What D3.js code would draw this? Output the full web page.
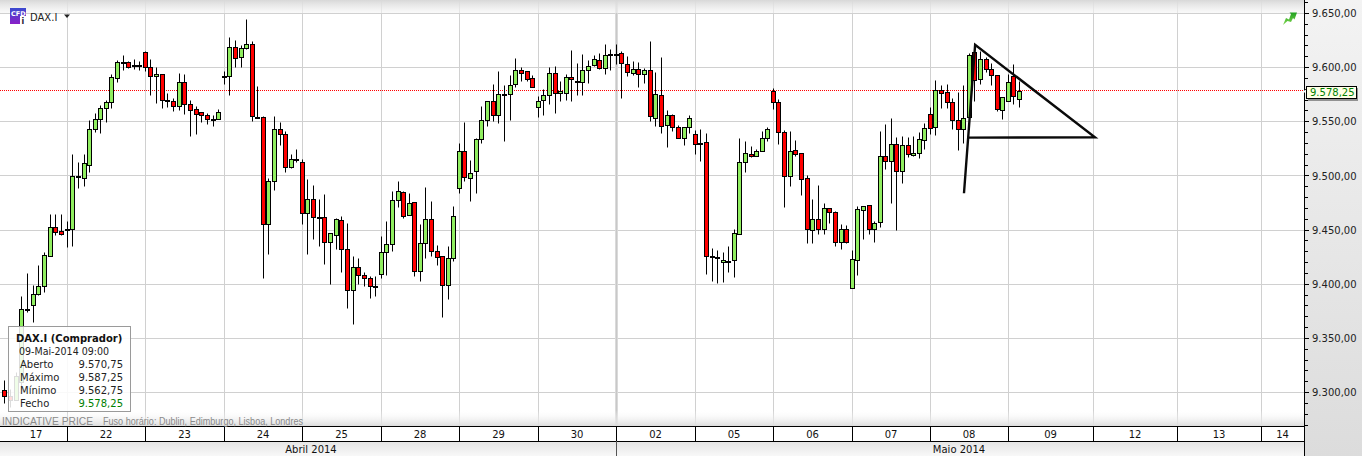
<!DOCTYPE html>
<html><head><meta charset="utf-8">
<script src="https://cdn.jsdelivr.net/npm/d3@7"></script>
<style>html,body{margin:0;padding:0;background:#fff;overflow:hidden}svg{display:block}text{font-family:"DejaVu Sans",sans-serif;}</style>
</head><body><svg id="c" width="1362" height="456"></svg>
<script>
const opens=[9301.5,9296,9293,9309,9377,9380.5,9390.5,9397.5,9426,9452,
9449,9451,9451,9499,9498,9510,9542.5,9552.5,9562.5,9567.5,
9590,9604.5,9604.5,9601.5,9601.5,9614,9600.5,9591.5,9593.5,9569.5,
9568.5,9564,9586,9565.5,9561,9558.5,9555.5,9552.5,9552,9592,
9591.5,9618.5,9609,9617.5,9621,9554,9553.5,9455.5,9495,9542.5,
9538,9507.5,9515,9512,9465,9478,9461.5,9461.5,9438.5,9445,
9459,9432,9394,9415.5,9408,9405,9397.5,9409,9429.5,9437,
9477.5,9485,9463.5,9475.5,9412,9437.5,9460,9430.5,9425.5,9399,
9424,9488.5,9522.5,9497.5,9504,9533.5,9551,9568.5,9555.5,9575,
9575,9584.5,9597,9596.5,9590,9563,9569.5,9574,9594.5,9576,
9576,9591,9587.5,9586,9597,9602,9606.5,9599,9612,9612.5,
9613,9603,9594.5,9598,9593.5,9597,9553,9574,9546.5,9555.5,
9544.5,9534.5,9544.5,9538,9529.5,9530.5,9425.5,9424.5,9420,9421,
9421.5,9445.5,9512,9519.5,9517.5,9522.5,9534.5,9577.5,9567.5,9540,
9499,9523,9520.5,9497.5,9449.5,9459.5,9450.5,9469.5,9466,9438.5,
9450.5,9396,9421.5,9468,9472.5,9450.5,9457,9517.5,9513,9529,
9504,9528,9518.5,9520.5,9532.5,9556.5,9544.5,9578.5,9577,9567.5,
9551,9542.5,9553.5,9614,9589,9607.5,9598,9592.5,9560,9568.5,9591.5,9570.75];
const closes=[9296,9292.5,9315,9377,9377,9390.5,9397.5,9427,9452,9448,
9446,9451,9499,9499,9511,9542.5,9552.5,9562,9567.5,9590.5,
9604.5,9604.5,9600.5,9601.5,9601.5,9600.5,9591.5,9593.5,9569.5,9569.5,
9564,9586,9565.5,9560,9557,9555.5,9552,9552.5,9558.5,9592,
9618.5,9608,9617.5,9621,9554.5,9554,9455.5,9495,9542.5,9538,
9507.5,9515.5,9515,9465.5,9478,9462,9461.5,9438.5,9447,9460,
9432,9394,9415.5,9408,9405,9397.5,9397.5,9429.5,9437,9477.5,
9485.5,9462.5,9474.5,9412,9437.5,9460,9430.5,9425,9399,9424,
9462.5,9522.5,9498.5,9502,9533.5,9551,9568.5,9555.5,9575,9575,
9583.5,9597,9594.5,9589,9581.5,9568.5,9574,9594.5,9576,9578,
9591,9589,9587.5,9597,9601,9607.5,9599,9611,9612,9612.5,
9603.5,9595.5,9598,9593.5,9597,9555,9575,9545.5,9555.5,9544.5,
9534.5,9544.5,9553,9529,9529.5,9425.5,9425.5,9424.5,9421.5,9421,
9446.5,9512,9520.5,9517.5,9522.5,9534.5,9542.5,9567.5,9540,9499,
9522.5,9519.5,9496.5,9450.5,9459.5,9450.5,9469.5,9466,9438.5,9451,
9439,9422.5,9469,9471.5,9450.5,9456,9517.5,9513,9529,9504,
9528,9519.5,9520.5,9533.5,9543.5,9543.5,9578.5,9576,9567.5,9551,
9542.5,9553,9611,9588,9607.5,9598,9592.5,9561,9572,9586,9573,9578.25];
const highs=[9311,9303,9319,9388.5,9410,9399,9417,9429,9464,9464,
9464,9458,9520,9512,9519.5,9551,9558,9565,9570,9593.5,
9606.5,9611,9605.5,9607.5,9605.5,9615,9607.5,9600.5,9593.5,9576,
9571,9594.5,9593.5,9569.5,9564,9558.5,9557.5,9555.5,9561,9596,
9628,9625,9620,9644.5,9624,9582.5,9554.5,9497.5,9554.5,9549,
9541,9519.5,9524,9515.5,9497,9491.5,9478,9482.5,9447,9461,
9463,9456.5,9425.5,9424,9411,9407,9407.5,9444.5,9457.5,9485.5,
9495,9485.5,9484,9475.5,9455.5,9489.5,9476.5,9436,9425.5,9435,
9472,9530,9549.5,9514,9534.5,9564,9568.5,9584.5,9596,9583,
9592.5,9608,9600,9596.5,9592.5,9573,9579.5,9600,9601,9587,
9593.5,9615.5,9603.5,9612,9606.5,9611.5,9613,9621,9616.5,9621,
9615,9610,9605.5,9604.5,9599,9624,9595.5,9609,9560,9556.5,
9546.5,9544.5,9555.5,9542,9542.5,9539,9433,9431,9429,9434.5,
9451,9534.5,9531.5,9527,9524,9541,9544.5,9580.5,9570.5,9541.5,
9541,9532.5,9520.5,9500,9478,9491,9474.5,9469.5,9467,9455,
9454,9431,9471.5,9471.5,9472.5,9457.5,9541,9547,9553,9535,
9536,9535,9536,9540,9548,9563,9588,9583.5,9584.5,9571,
9577,9583.5,9613,9614,9615,9609,9603.5,9592.5,9572,9593.5,9603,9587.25];
const lows=[9290,9286,9293,9304,9373.5,9365,9390,9392,9426,9445,
9445,9434,9435,9488.5,9490,9503,9540,9539,9549.5,9562.5,
9586.5,9597,9599,9598,9597,9596,9574,9566.5,9562.5,9563,
9559.5,9560,9557,9536.5,9538.5,9549.5,9547.5,9546,9552,9584,
9574,9600.5,9600.5,9616.5,9550,9553,9405.5,9427.5,9486.5,9528.5,
9503.5,9506.5,9512,9455,9427.5,9441.5,9435,9418.5,9400,9432.5,
9411,9378,9362.5,9400,9397.5,9386.5,9389,9405,9408,9430,
9470.5,9460.5,9463.5,9407,9403,9423.5,9425.5,9417,9369,9385.5,
9421,9483.5,9494.5,9476,9484,9530,9546,9550,9548,9531.5,
9551,9581.5,9587,9587,9581.5,9553.5,9555.5,9565.5,9558,9568.5,
9570,9569,9574,9574,9585,9601,9598,9593.5,9597,9603,
9571,9591.5,9592.5,9582,9585,9550,9546,9539.5,9526,9541,
9534.5,9528.5,9539,9520,9513.5,9409,9403,9401,9402,9411,
9406.5,9445.5,9503.5,9517,9517.5,9522.5,9531.5,9561,9529,9471,
9490.5,9517.5,9481.5,9437.5,9437.5,9445.5,9445.5,9456,9434.5,9432,
9437.5,9396,9408.5,9441,9445.5,9439,9452,9505.5,9475,9449.5,
9493,9517,9517.5,9516.5,9524,9538,9537,9562,9562,9543,
9523,9529.5,9553.5,9568.5,9584,9595.5,9583,9559,9552,9568.5,9565.5,9562.75];

const dayLabels=["17","22","23","24","25","28","29","30","02","05","06","07","08","09","12","13","14"];
const dayStarts=[-1,11,25,39,53,67,81,95,109,123,137,151,165,179,194,209,224];
const monthLabels=["Abril 2014","Maio 2014"];
const monthStarts=[-2,109];
const priceTicks=[9650,9600,9550,9500,9450,9400,9350,9300];
const lastPrice=9578.25;
const patternPoints=[[171.1,9484],[173.1,9621],[194.35,9535.6],[172,9535.3]];
const infoTitle="DAX.I (Comprador)";
const infoDate="09-Mai-2014 09:00";
const infoRows=[["Aberto","9.570,75"],["Máximo","9.587,25"],["Mínimo","9.562,75"],["Fecho","9.578,25"]];

const W=1362,H=456,axisX=1304,plotBottom=426;
const svg=d3.select("#c");
const defs=svg.append("defs");
function grad(id,stops){const g=defs.append("linearGradient").attr("id",id).attr("x1",0).attr("y1",0).attr("x2",0).attr("y2",1);
 stops.forEach(s=>g.append("stop").attr("offset",s[0]).attr("stop-color",s[1]).attr("stop-opacity",s[2]===undefined?1:s[2]));}
grad("gTop",[[0,"#d8d8d8",1],[1,"#f6f6f6",.6]]);
grad("gBot",[[0,"#ffffff",0],[1,"#dcdcdc",1]]);
grad("gMonth",[[0,"#e4e4e4"],[1,"#f8f8f8"]]);
grad("gRight",[[0,"#f3f3f3"],[1,"#dcdcdc"]]);
grad("gIcon",[[0,"#3a4ad0"],[1,"#8a20c8"]]);
grad("gArrow",[[0,"#20a020"],[1,"#80d850"]]);

const x=d3.scaleLinear()
 .domain([-1,11,25,39,53,67,81,95,109,123,137,151,165,179,194,209,224])
 .range([-1,67,145,224,302,381,459,538,616,695,773,852,930,1008,1093,1177,1261]);
const y=d3.scaleLinear().domain([9650,9300]).range([13.4,392.6]);
const px=v=>Math.floor(x(v)+.3)+.5;
const py=v=>Math.floor(y(v))+.5;
const fmt=v=>{const s=v.toFixed(2).replace(".",",");return s.replace(/^(\d)(\d{3})/,"$1.$2");};

svg.append("rect").attr("width",W).attr("height",H).attr("fill","#fff");
const minorTicks=d3.range(9260,9670,10).filter(v=>y(v)>0&&y(v)<plotBottom);
svg.append("g").selectAll("line").data(priceTicks).join("line")
 .attr("x1",0).attr("x2",axisX).attr("y1",py).attr("y2",py)
 .attr("stroke","#d0d0d0").attr("stroke-width",1);
svg.append("g").selectAll("line").data(dayStarts.slice(1)).join("line")
 .attr("x1",d=>Math.floor(x(d))+.5).attr("x2",d=>Math.floor(x(d))+.5)
 .attr("y1",0).attr("y2",plotBottom)
 .attr("stroke","#d0d0d0");
svg.append("rect").attr("x",Math.floor(x(monthStarts[1]))-1).attr("y",0).attr("width",3).attr("height",plotBottom)
 .attr("fill","#dadada");
svg.append("line").attr("x1",Math.floor(x(monthStarts[1]))+.5).attr("x2",Math.floor(x(monthStarts[1]))+.5)
 .attr("y1",0).attr("y2",plotBottom).attr("stroke","#c8c8c8");
svg.append("rect").attr("x",0).attr("y",0).attr("width",axisX).attr("height",13).attr("fill","url(#gTop)");
svg.append("rect").attr("x",0).attr("y",410).attr("width",axisX).attr("height",16).attr("fill","url(#gBot)");

const lastY=py(lastPrice)-1;
svg.append("line").attr("x1",0).attr("x2",axisX).attr("y1",lastY).attr("y2",lastY)
 .attr("stroke","#ff0000").attr("stroke-dasharray","1,1").attr("shape-rendering","crispEdges");

const idx=d3.range(opens.length);
const g=svg.append("g");
g.selectAll("line.w").data(idx).join("line").attr("class","w")
 .attr("x1",px).attr("x2",px).attr("y1",i=>py(highs[i])).attr("y2",i=>py(lows[i]))
 .attr("stroke","#000").attr("stroke-width",1);
const bodies=idx.filter(i=>opens[i]!==closes[i]);
g.selectAll("rect").data(bodies).join("rect")
 .attr("x",i=>px(i)-2).attr("width",4)
 .attr("y",i=>py(Math.max(opens[i],closes[i])))
 .attr("height",i=>Math.max(1,py(Math.min(opens[i],closes[i]))-py(Math.max(opens[i],closes[i]))))
 .attr("fill",i=>closes[i]>opens[i]?"#90ee60":"#ff0000")
 .attr("stroke","#000").attr("stroke-width",1);
const dojis=idx.filter(i=>opens[i]===closes[i]);
g.selectAll("line.d").data(dojis).join("line").attr("class","d")
 .attr("x1",i=>px(i)-2.5).attr("x2",i=>px(i)+2.5)
 .attr("y1",i=>py(opens[i])+.5).attr("y2",i=>py(opens[i])+.5)
 .attr("stroke","#000").attr("stroke-width",2);

svg.append("path").datum(patternPoints)
 .attr("d",d3.line().x(d=>x(d[0])).y(d=>y(d[1])))
 .attr("fill","none").attr("stroke","#0a0a0a").attr("stroke-width",2.4).attr("stroke-linejoin","miter");

svg.append("rect").attr("x",axisX+.5).attr("y",0).attr("width",W-axisX).attr("height",H).attr("fill","url(#gRight)");
svg.append("line").attr("x1",axisX+.5).attr("x2",axisX+.5).attr("y1",0).attr("y2",H).attr("stroke","#000");
const isMajor=v=>priceTicks.includes(v);
svg.append("g").selectAll("line").data(minorTicks).join("line")
 .attr("x1",axisX).attr("x2",v=>axisX+(isMajor(v)?5:4))
 .attr("y1",py).attr("y2",py).attr("stroke","#000");
svg.append("g").selectAll("text").data(priceTicks).join("text")
 .attr("x",1312).attr("y",v=>y(v)+3.6).attr("font-size",10).attr("fill","#222")
 .text(fmt);

const tagY=Math.round(y(lastPrice))-5;
svg.append("rect").attr("x",1308).attr("y",tagY+2).attr("width",50).attr("height",13).attr("fill","#555").attr("opacity",.6);
svg.append("rect").attr("x",1306.5).attr("y",tagY+.5).attr("width",50).attr("height",12).attr("fill","#ffffe6").attr("stroke","#000");
svg.append("path").attr("d",`M1303,${tagY+5.5}l3,-2v4z`).attr("fill","#fff");
svg.append("text").attr("x",1310).attr("y",tagY+10.3).attr("font-size",10).attr("fill","#008000").text(fmt(lastPrice));

svg.append("rect").attr("x",0).attr("y",426).attr("width",axisX).attr("height",15).attr("fill","#fff");
svg.append("rect").attr("x",0).attr("y",441).attr("width",axisX).attr("height",15).attr("fill","url(#gMonth)");
[426.5,441.5].forEach(v=>svg.append("line").attr("x1",0).attr("x2",axisX).attr("y1",v).attr("y2",v).attr("stroke","#000"));
svg.append("g").selectAll("line").data(dayStarts.slice(1)).join("line")
 .attr("x1",d=>Math.floor(x(d))+.5).attr("x2",d=>Math.floor(x(d))+.5)
 .attr("y1",426).attr("y2",441).attr("stroke","#000");
const dayEnd=i=>i<dayStarts.length-1?x(dayStarts[i+1]):axisX;
svg.append("g").selectAll("text").data(dayLabels).join("text")
 .attr("x",(d,i)=>((i===0?5:x(dayStarts[i]))+dayEnd(i))/2).attr("y",438)
 .attr("text-anchor","middle").attr("font-size",10).attr("fill","#111").text(d=>d);
svg.append("line").attr("x1",Math.floor(x(monthStarts[1]))+.5).attr("x2",Math.floor(x(monthStarts[1]))+.5)
 .attr("y1",441).attr("y2",456).attr("stroke","#555");
svg.append("g").selectAll("text").data(monthLabels).join("text")
 .attr("x",(d,i)=>i===0?311:959).attr("y",452.5)
 .attr("text-anchor","middle").attr("font-size",10).attr("fill","#111").text(d=>d);

svg.append("text").attr("x",2).attr("y",424.5).attr("font-size",10).attr("fill","#8a8a8a").style("font-family","Liberation Sans").attr("textLength",91).attr("lengthAdjust","spacingAndGlyphs").text("INDICATIVE PRICE");
svg.append("text").attr("x",103).attr("y",424.5).attr("font-size",10).attr("fill","#8a8a8a").style("font-family","Liberation Sans").attr("textLength",200).attr("lengthAdjust","spacingAndGlyphs").text("Fuso horário: Dublin, Edimburgo, Lisboa, Londres");

svg.append("rect").attr("x",8.5).attr("y",326.5).attr("width",122).attr("height",85)
 .attr("fill","#fff").attr("fill-opacity",.86).attr("stroke","#9a9a9a");
svg.append("text").attr("x",16).attr("y",342).attr("font-size",10).attr("font-weight","bold").attr("fill","#111").text(infoTitle);
svg.append("text").attr("x",19).attr("y",355).attr("font-size",10).attr("fill","#222").attr("textLength",90).attr("lengthAdjust","spacingAndGlyphs").text(infoDate);
infoRows.forEach((r,i)=>{
 svg.append("text").attr("x",20).attr("y",368+13*i).attr("font-size",10).attr("fill","#222").text(r[0]);
 svg.append("text").attr("x",123).attr("y",368+13*i).attr("text-anchor","end").attr("font-size",10)
  .attr("fill",i===3?"#008000":"#222").text(r[1]);
});

svg.append("rect").attr("x",10).attr("y",8).attr("width",16).attr("height",16).attr("fill","url(#gIcon)");
svg.append("text").attr("x",11).attr("y",16).attr("font-size",6.5).attr("font-weight","bold").attr("fill","#fff").text("CFD");
svg.append("rect").attr("x",20).attr("y",16).attr("width",6).attr("height",8).attr("fill","#fff");
svg.append("text").attr("x",21.5).attr("y",23.5).attr("font-size",8).attr("font-weight","bold").attr("fill","#223").text("i");
svg.append("text").attr("x",30).attr("y",21).attr("font-size",10).attr("fill","#222").text("DAX.I");
svg.append("path").attr("d","M64,14.5h6l-3,3.5z").attr("fill","#222");
svg.append("path").attr("d","M1283,25l3,-7l3,1.5l2,-5.5l-1.5,-1.5l7.5,0l-2.5,7l-1.5,-1.5l-2,4l-3.5,-1z").attr("fill","url(#gArrow)");
</script></body></html>
